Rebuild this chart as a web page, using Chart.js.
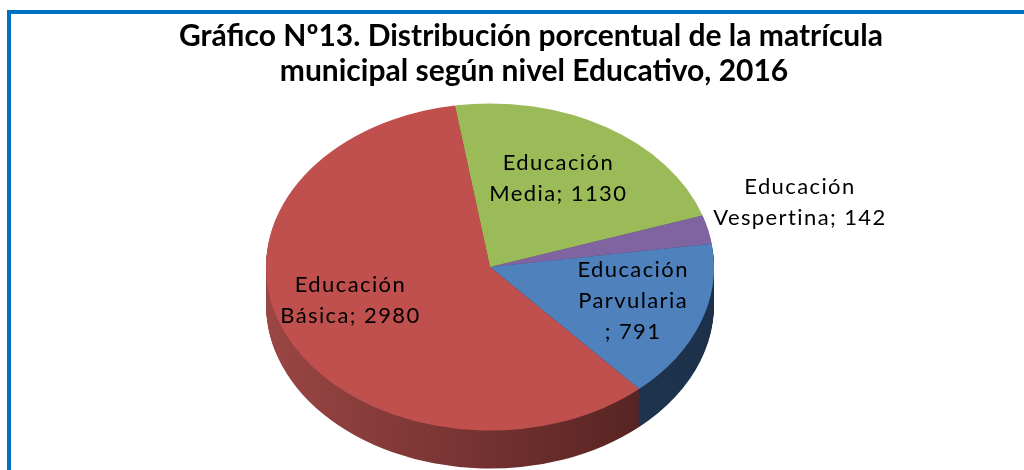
<!DOCTYPE html>
<html>
<head>
<meta charset="utf-8">
<script src="https://cdn.jsdelivr.net/npm/chart.js@4/dist/chart.umd.min.js"></script>
<style>
  html, body { margin: 0; padding: 0; background: #ffffff; }
  #wrap { position: relative; width: 1024px; height: 470px; overflow: hidden; }
  canvas { display: block; }
</style>
</head>
<body>
<div id="wrap"><canvas id="c" width="1024" height="470"></canvas></div>
<script>
// ---- Data ----
const categories = ['Educación Media', 'Educación Vespertina', 'Educación Parvularia', 'Educación Básica'];
const values = [1130, 142, 791, 2980];
const titleLines = ['Gráfico Nº13. Distribución porcentual de la matrícula', 'municipal según nivel Educativo, 2016'];

// ---- Styles ----
const topColors = ['#9BBB59', '#8064A2', '#4F81BD', '#C0504D'];
const sideColors = [
  ['#6E8A3A', '#55692C'],
  ['#5A4475', '#433358'],
  ['#2A4468', '#1C3049'],
  ['#9A4644', '#4A1D1C']
];
const breakBeforeValue = [false, false, true, false];
const labelRadius = [0.63, 1.44, 0.68, 0.66];
const labelNudge = [[-5, -1], [-4, -11], [0, -4], [-6, -13]];

const CY = 267, K = 0.73, DEPTH = 38;

function labelLinesFor(i) {
  const parts = categories[i].split(' ');
  if (breakBeforeValue[i]) return [parts[0], parts[1], '; ' + values[i]];
  return [parts[0], parts[1] + '; ' + values[i]];
}

function applyT(ctx, chart, dy) {
  const cyChart = (chart.chartArea.top + chart.chartArea.bottom) / 2;
  ctx.translate(0, CY + dy);
  ctx.scale(1, K);
  ctx.translate(0, -cyChart);
}

const pie3d = {
  id: 'pie3d',
  beforeDatasetsDraw(chart) {
    const ctx = chart.ctx;
    const arcs = chart.getDatasetMeta(0).data;
    const a0 = arcs[0];
    const left = a0.x - a0.outerRadius, right = a0.x + a0.outerRadius;
    const grads = sideColors.map(c => {
      const g = ctx.createLinearGradient(left, 0, right, 0);
      g.addColorStop(0, c[0]);
      g.addColorStop(1, c[1]);
      return g;
    });
    for (let d = DEPTH; d >= 1; d--) {
      ctx.save();
      applyT(ctx, chart, d);
      arcs.forEach((a, i) => {
        ctx.beginPath();
        ctx.moveTo(a.x, a.y);
        ctx.arc(a.x, a.y, a.outerRadius, a.startAngle, a.endAngle);
        ctx.closePath();
        ctx.fillStyle = grads[i];
        ctx.fill();
      });
      ctx.restore();
    }
    ctx.save();
    applyT(ctx, chart, 0);
  },
  afterDatasetsDraw(chart) {
    chart.ctx.restore();
  },
  afterDraw(chart) {
    const ctx = chart.ctx;
    // border
    ctx.save();
    ctx.fillStyle = '#0070C0';
    ctx.fillRect(7, 10, 4, 470);
    ctx.fillRect(7, 10, 1017, 4);
    // title
    ctx.fillStyle = '#000000';
    ctx.textAlign = 'center';
    ctx.textBaseline = 'alphabetic';
    ctx.font = 'bold 30px Lato';
    ctx.fillText(titleLines[0], 531, 46);
    ctx.fillText(titleLines[1], 534, 81);
    // labels
    const arcs = chart.getDatasetMeta(0).data;
    ctx.font = '22px Lato';
    if ('letterSpacing' in ctx) ctx.letterSpacing = '1.4px';
    ctx.textBaseline = 'middle';
    arcs.forEach((a, i) => {
      const mid = (a.startAngle + a.endAngle) / 2;
      const r = a.outerRadius * labelRadius[i];
      const x = a.x + r * Math.cos(mid) + labelNudge[i][0];
      const y = CY + r * Math.sin(mid) * K + labelNudge[i][1];
      const lines = labelLinesFor(i);
      const lh = 31;
      const y0 = y - (lines.length - 1) * lh / 2;
      lines.forEach((t, j) => ctx.fillText(t, x, y0 + j * lh));
    });
    ctx.restore();
  }
};

new Chart(document.getElementById('c'), {
  type: 'pie',
  data: {
    labels: categories,
    datasets: [{
      data: values,
      backgroundColor: topColors,
      borderWidth: 0
    }]
  },
  options: {
    responsive: false,
    animation: false,
    rotation: -9,
    layout: { padding: { left: 266, right: 310, top: 11, bottom: 11 } },
    plugins: {
      legend: { display: false },
      tooltip: { enabled: false },
      title: { display: false }
    }
  },
  plugins: [pie3d]
});
</script>
</body>
</html>
